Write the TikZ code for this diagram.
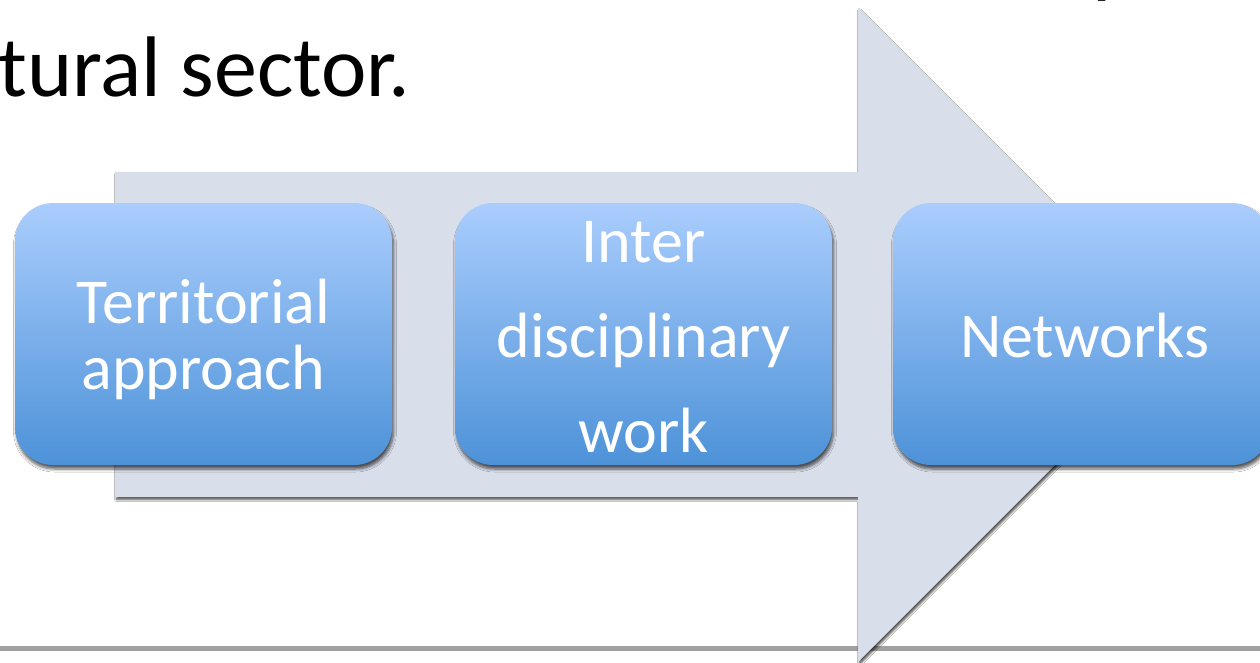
\documentclass[tikz,border=0pt]{standalone}
\usepackage{fontspec}
\setmainfont{Carlito}
\usetikzlibrary{shadows.blur}
\definecolor{arrowfill}{RGB}{217,222,235}
\definecolor{boxtop}{RGB}{170,205,253}
\definecolor{boxbot}{RGB}{77,146,216}
\definecolor{rulegray}{RGB}{160,160,160}
\tikzset{
  bigarrow/.style={fill=arrowfill, draw=none,
    blur shadow={shadow xshift=1.5pt, shadow yshift=-2.5pt, shadow blur radius=2pt, shadow blur steps=6, shadow opacity=70}},
  stepbox/.style={rectangle, rounded corners=38pt, draw=none,
    minimum width=377pt, minimum height=262pt, inner sep=0pt,
    top color=boxtop, bottom color=boxbot,
    blur shadow={shadow xshift=1.5pt, shadow yshift=-4pt, shadow blur radius=3pt, shadow blur steps=6, shadow opacity=65}},
  boxtext/.style={text=white, font=\fontsize{64}{66}\selectfont, anchor=base, inner sep=0pt},
  titletext/.style={text=black, font=\fontsize{86}{90}\selectfont, inner sep=0pt}
}
\begin{document}
\begin{tikzpicture}[x=1pt,y=-1pt]
\useasboundingbox (0,0) rectangle (1260,663);
\fill[white] (0,0) rectangle (1260,663);
% bottom rule
\draw[rulegray, line width=5pt] (0,648.5) -- (1260,648.5);
% title fragments
\node[titletext, anchor=base west] (title) at (-2,97) {tural sector.};
\node[titletext, anchor=base west] (frag) at (1092,-12) {p};
% big arrow
\path[bigarrow] (115,172) -- (858,172) -- (858,8) -- (1185,335) -- (858,662) -- (858,497) -- (115,497) -- cycle;
% boxes
\node[stepbox] (b1) at (203.5,334) {};
\node[stepbox] (b2) at (643.5,334) {};
\node[stepbox] (b3) at (1081.5,334) {};
% texts
\node[boxtext] (t1a) at (203.5,323) {Territorial};
\node[boxtext] (t1b) at (203.5,389) {approach};
\node[boxtext] (t2a) at (643.5,262) {Inter};
\node[boxtext] (t2b) at (643.5,357) {disciplinary};
\node[boxtext] (t2c) at (643.5,452) {work};
\node[boxtext] (t3) at (1084.5,357) {Networks};
\end{tikzpicture}
\end{document}
